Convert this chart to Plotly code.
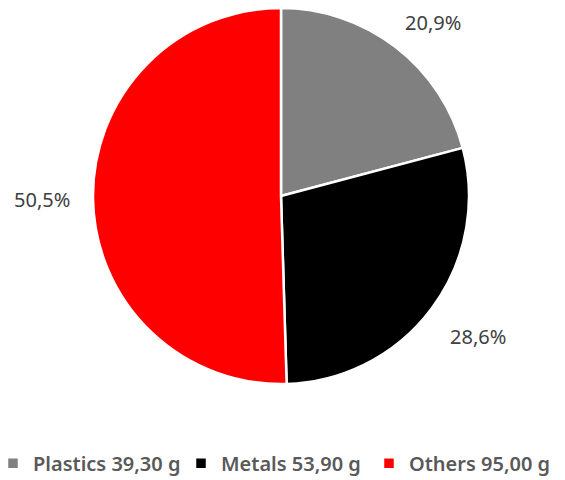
import math
import plotly.graph_objects as go

categories = ["Plastics 39,30 g", "Metals 53,90 g", "Others 95,00 g"]
values = [39.30, 53.90, 95.00]
colors = ["#808080", "#000000", "#FF0000"]

W, H = 565, 480
M = dict(l=0, r=0, t=0, b=104)
DOM_X = [0.0, 546 / 565]
# label anchor distance from centre, relative to pie radius
RAD_UPPER = 1.06    # labels in the upper half (anchored at their bottom)
RAD_LOWER = 1.11    # labels in the lower half (anchored at their top)

fig = go.Figure(go.Pie(
    labels=categories,
    values=values,
    sort=False,
    direction="clockwise",
    rotation=0,
    domain=dict(x=DOM_X, y=[0, 1]),
    marker=dict(colors=colors, line=dict(color="#FFFFFF", width=2.5)),
    textinfo="none",
    hoverinfo="label+percent",
))

# percentage labels placed outside each slice, anchored by quadrant
pw = W - M["l"] - M["r"]
ph = H - M["t"] - M["b"]
cxp = (DOM_X[0] + DOM_X[1]) / 2 * pw
cyp = ph / 2
R = min((DOM_X[1] - DOM_X[0]) * pw, ph) / 2
total = sum(values)
cum = 0.0
for v in values:
    mid = (cum + v / 2) / total * 2 * math.pi
    cum += v
    s, c = math.sin(mid), math.cos(mid)
    k = RAD_UPPER if c > 0 else RAD_LOWER
    px = cxp + k * R * s
    py = cyp + k * R * c
    if abs(c) < 0.3:
        ya = "middle"
    else:
        ya = "bottom" if c > 0 else "top"
    txt = f"{v / total * 100:.1f}".replace(".", ",") + "%"
    fig.add_annotation(
        x=px / pw, y=py / ph,
        xref="paper", yref="paper",
        text=txt, showarrow=False,
        xanchor="left" if s > 0 else "right",
        yanchor=ya,
        font=dict(family="Noto Sans", size=20, color="#404040"),
    )

fig.update_layout(
    width=W, height=H,
    separators=",.",
    margin=M,
    paper_bgcolor="#FFFFFF",
    showlegend=True,
    legend=dict(
        orientation="h",
        x=0.0, xanchor="left",
        y=-0.211, yanchor="middle",
        font=dict(family="Noto Sans", size=20, color="#595959", weight=600),
        itemwidth=30,
        indentation=-15,
        entrywidth=158,
        entrywidthmode="pixels",
        traceorder="normal",
    ),
)

fig.write_html("out.html")
